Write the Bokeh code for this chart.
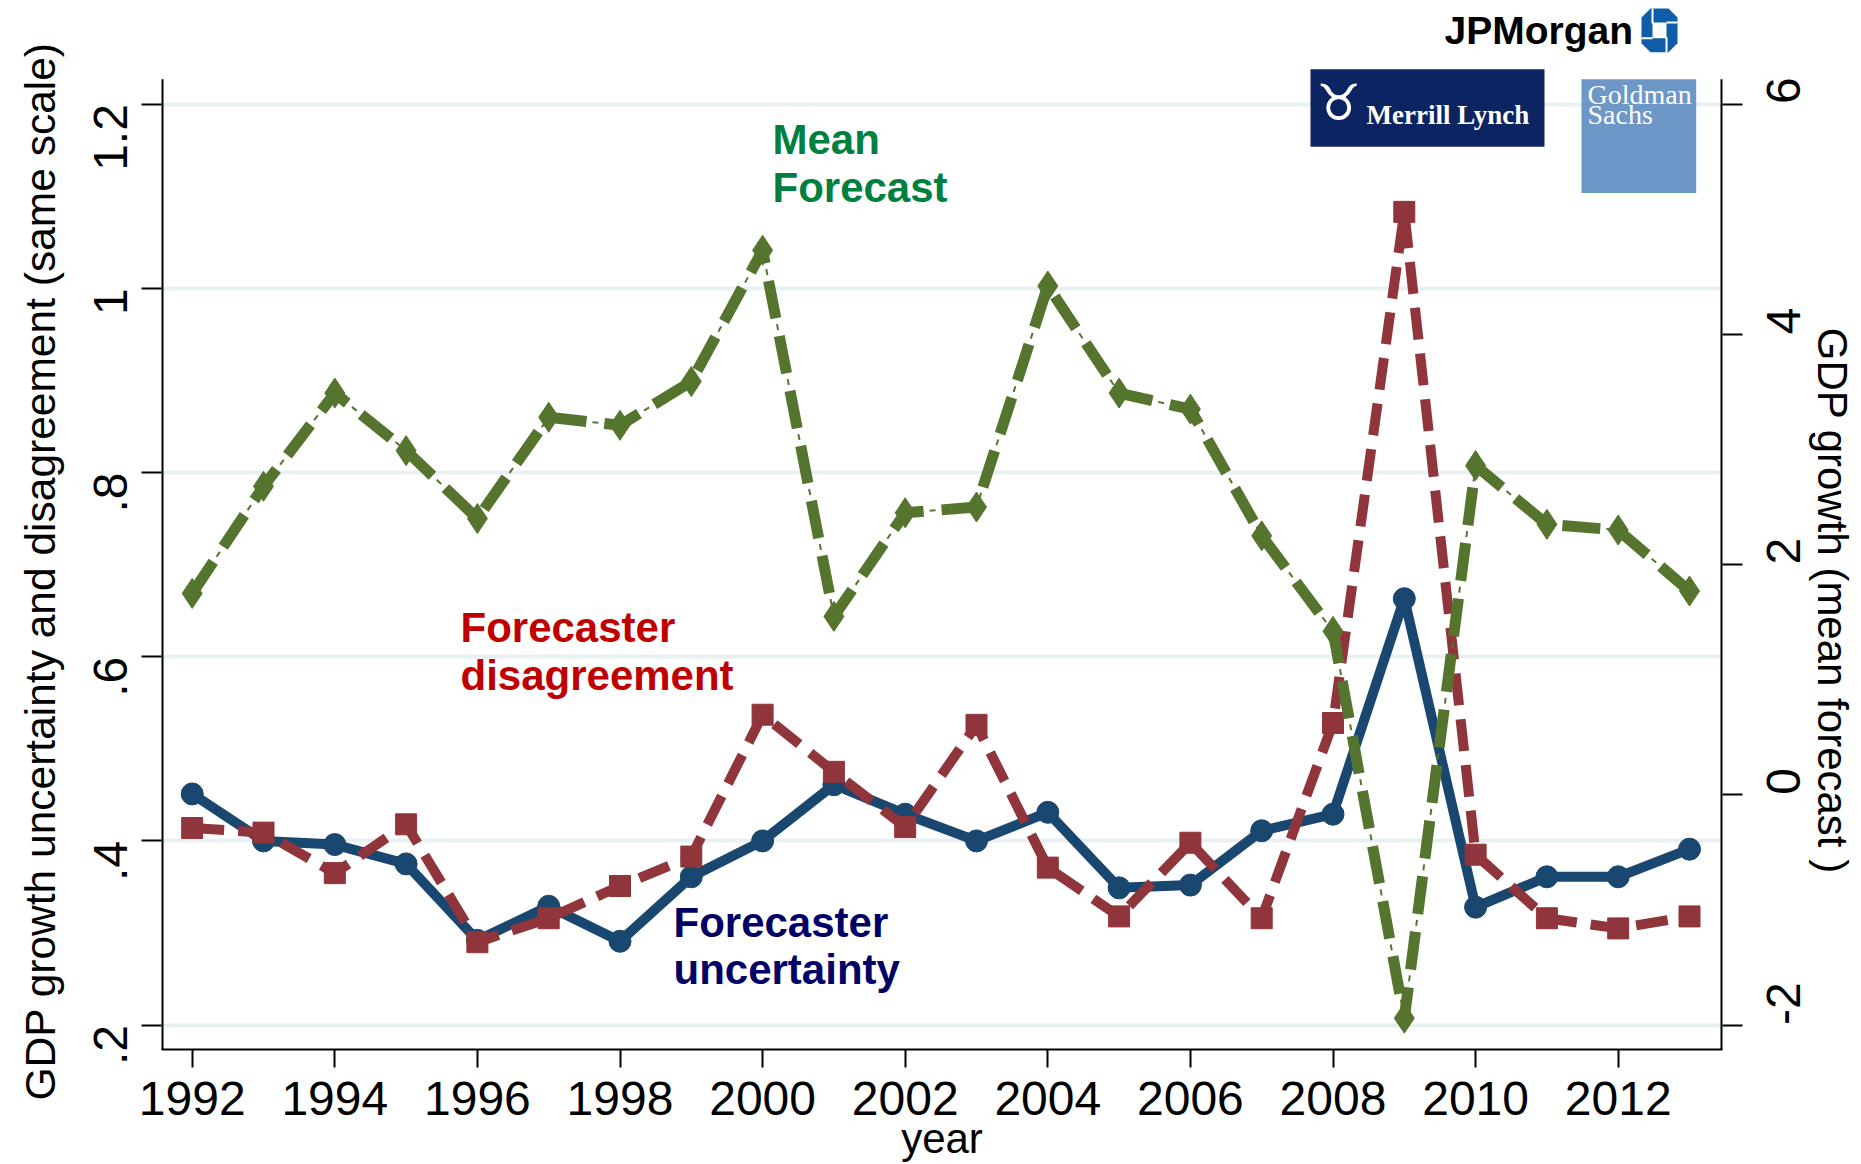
import math
from bokeh.plotting import figure
from bokeh.models import Range1d, LinearAxis, FixedTicker, Label, BoxAnnotation, PolyAnnotation, Title
from bokeh.embed import file_html
from bokeh.resources import INLINE

# ---------------- data ----------------
years = list(range(1992, 2014))
uncertainty = [0.451, 0.400, 0.396, 0.375, 0.292, 0.329, 0.291, 0.361, 0.400, 0.461, 0.429,
               0.400, 0.431, 0.349, 0.352, 0.411, 0.429, 0.663, 0.328, 0.361, 0.361, 0.391]
disagreement = [0.414, 0.409, 0.365, 0.418, 0.290, 0.316, 0.351, 0.383, 0.537, 0.475, 0.415,
                0.526, 0.371, 0.318, 0.398, 0.316, 0.528, 1.083, 0.385, 0.316, 0.305, 0.318]
mean_forecast = [1.75, 2.68, 3.49, 2.99, 2.40, 3.28, 3.21, 3.59, 4.73, 1.55, 2.45,
                 2.50, 4.42, 3.49, 3.35, 2.25, 1.42, -1.94, 2.86, 2.35, 2.30, 1.77]

x_ticks = list(range(1992, 2013, 2))
left_ticks = [0.2, 0.4, 0.6, 0.8, 1.0, 1.2]
left_tick_labels = [".2", ".4", ".6", ".8", "1", "1.2"]
right_ticks = [-2, 0, 2, 4, 6]
right_tick_labels = ["-2", "0", "2", "4", "6"]

left_title = "GDP growth uncertainty and disagreement (same scale)"
right_title = "GDP growth (mean forecast )"
x_title = "year"

# ---------------- helpers: page pixel -> data ----------------
def px_x(px):
    return 1992 + (px - 191.7) / 71.3

def px_y(py):
    return 1.2 - (py - 104.0) / 924.5

def base_y(py, size):
    # alphabetic baseline correction for Label text
    return px_y(py - (0.15 * size + 7.5))

def to_right(v):
    return 8 * v - 3.6

W, H = 1861, 1164
FRAME_L, FRAME_R, FRAME_B, AXIS_TOP = 161, 1722, 1053, 79

FONT = "Liberation Sans"
SERIF = "Liberation Serif"
NBSP = "\u00a0"

x0, x1 = px_x(FRAME_L), px_x(FRAME_R)
y0, y1 = px_y(FRAME_B), px_y(0)

p = figure(width=W, height=H,
           x_range=Range1d(x0, x1), y_range=Range1d(y0, y1),
           output_backend="svg", toolbar_location=None,
           min_border_left=FRAME_L, min_border_right=W - FRAME_R,
           min_border_top=0, min_border_bottom=H - FRAME_B)
p.extra_y_ranges = {"gdp": Range1d(to_right(y0), to_right(y1))}
p.outline_line_color = None
p.background_fill_color = "white"
p.border_fill_color = "white"

right_axis = LinearAxis(y_range_name="gdp")
p.add_layout(right_axis, "right")

for ax in [p.xaxis[0], p.yaxis[0], right_axis]:
    ax.axis_line_color = "black"
    ax.axis_line_width = 2
    ax.major_tick_line_color = "black"
    ax.major_tick_line_width = 2
    ax.major_tick_in = 0
    ax.minor_tick_in = 0
    ax.minor_tick_out = 0
    ax.major_label_text_font = FONT
    ax.major_label_text_font_size = "48px"
    ax.major_label_text_color = "black"
    ax.axis_label_text_font = FONT
    ax.axis_label_text_font_size = "42px"
    ax.axis_label_text_font_style = "normal"
    ax.axis_label_text_color = "black"

# bottom axis
p.xaxis.ticker = FixedTicker(ticks=x_ticks)
p.xaxis.major_tick_out = 18
p.xaxis.major_label_standoff = 14
p.xaxis.axis_label = x_title
p.xaxis.axis_label_standoff = -3

# left axis (line drawn separately so that it starts below the logos)
p.yaxis[0].ticker = FixedTicker(ticks=left_ticks)
p.yaxis[0].major_label_overrides = dict(zip(left_ticks, left_tick_labels))
p.yaxis[0].major_tick_out = 20
p.yaxis[0].major_label_orientation = math.pi / 2
p.yaxis[0].major_label_standoff = 31
p.yaxis[0].axis_line_color = None

# left title as a side title, started below the frame like the original
p.add_layout(Title(text=left_title, align="left", offset=-51, standoff=22,
                   vertical_align="bottom", text_font=FONT, text_font_size="42.5px",
                   text_font_style="normal", text_color="black"), "left")

right_axis.ticker = FixedTicker(ticks=right_ticks)
right_axis.major_label_overrides = dict(zip(right_ticks, right_tick_labels))
right_axis.major_tick_out = 20
right_axis.major_label_orientation = math.pi / 2
right_axis.major_label_standoff = 41
right_axis.axis_line_color = None
right_axis.axis_label = NBSP * 13 + right_title
right_axis.axis_label_standoff = -11

p.xgrid.visible = False
p.ygrid.ticker = FixedTicker(ticks=left_ticks)
p.ygrid.grid_line_color = "#e8f0f1"
p.ygrid.grid_line_width = 4

# vertical axis lines (half of the 4px stroke is clipped at the frame edge -> 2px)
p.line([x0, x0], [y0, px_y(AXIS_TOP)], line_color="black", line_width=4)
p.line([x1, x1], [y0, px_y(AXIS_TOP)], line_color="black", line_width=4)

# ---------------- series ----------------
BLUE = "#1a476f"
RED = "#90353b"
GREEN = "#55752f"

p.line(years, uncertainty, line_color=BLUE, line_width=10, line_join="round")
p.scatter(years, uncertainty, marker="circle", size=22, fill_color=BLUE, line_color=BLUE)

p.line(years, disagreement, line_color=RED, line_width=10, line_dash="32 14")
p.scatter(years, disagreement, marker="square", size=21, fill_color=RED, line_color=RED)

p.line(years, mean_forecast, y_range_name="gdp", line_color=GREEN, line_width=11,
       line_dash="38 18")
p.line(years, mean_forecast, y_range_name="gdp", line_color=GREEN, line_width=2,
       line_dash="6 50", line_dash_offset=12)
p.scatter(years, mean_forecast, y_range_name="gdp", marker="diamond", size=30,
          fill_color=GREEN, line_color=GREEN)

# ---------------- series annotations ----------------
def two_lines(x_px, base1, base2, l1, l2, color):
    for txt, b in [(l1, base1), (l2, base2)]:
        p.add_layout(Label(x=px_x(x_px), y=base_y(b, 42), text=txt, text_align="left",
                           text_baseline="alphabetic", text_font=FONT, text_font_size="42px",
                           text_font_style="bold", text_color=color))

two_lines(772, 153.3, 201.7, "Mean", "Forecast", "#00803f")
two_lines(460, 643.3, 691.7, "Forecaster", "disagreement", "#c00000")
two_lines(673, 939.3, 986.7, "Forecaster", "uncertainty", "#000066")

# ---------------- bank logos ----------------
p.add_layout(Label(x=px_x(1444), y=base_y(43.3, 39), text="JPMorgan", text_align="left",
                   text_baseline="alphabetic", text_font=FONT, text_font_size="39px",
                   text_font_style="bold", text_color="black"))
cx, cy, hw, hh, c = 1659, 30, 18, 22, 9
oct_px = [(cx - hw + c, cy - hh), (cx + hw - c, cy - hh), (cx + hw, cy - hh + c), (cx + hw, cy + hh - c),
          (cx + hw - c, cy + hh), (cx - hw + c, cy + hh), (cx - hw, cy + hh - c), (cx - hw, cy - hh + c)]
p.add_layout(PolyAnnotation(xs=[px_x(a) for a, b in oct_px], ys=[px_y(b) for a, b in oct_px],
                            fill_color="#0f5ca8", fill_alpha=1, line_color=None))
sq = 7
p.add_layout(BoxAnnotation(left=px_x(cx - sq), right=px_x(cx + sq), top=px_y(cy - sq - 1),
                           bottom=px_y(cy + sq + 1), fill_color="white", fill_alpha=1, line_color=None))
for a, b, a2, b2 in [(cx - sq - 1, cy - hh, cx - sq + 1, cy - sq),
                     (cx + sq, cy - sq - 2, cx + hw, cy - sq),
                     (cx + sq - 1, cy + sq, cx + sq + 1, cy + hh),
                     (cx - hw, cy + sq, cx - sq, cy + sq + 2)]:
    p.add_layout(BoxAnnotation(left=px_x(a), right=px_x(a2), top=px_y(b), bottom=px_y(b2),
                               fill_color="white", fill_alpha=1, line_color=None))

p.add_layout(BoxAnnotation(left=px_x(1310), right=px_x(1544), top=px_y(69), bottom=px_y(146.7),
                           fill_color="#0c2461", fill_alpha=1, line_color=None))
p.add_layout(Label(x=px_x(1316), y=base_y(118, 50), text="\u2649", text_align="left",
                   text_baseline="alphabetic", text_font="DejaVu Sans", text_font_size="50px",
                   text_color="white"))
p.add_layout(Label(x=px_x(1366), y=base_y(126, 27), text="Merrill Lynch", text_align="left",
                   text_baseline="alphabetic", text_font=SERIF, text_font_size="27px",
                   text_font_style="bold", text_color="white"))

p.add_layout(BoxAnnotation(left=px_x(1581), right=px_x(1695.7), top=px_y(79), bottom=px_y(193.3),
                           fill_color="#6c97c7", fill_alpha=1, line_color=None))
for txt, b in [("Goldman", 106), ("Sachs", 126.5)]:
    p.add_layout(Label(x=px_x(1587), y=base_y(b, 28), text=txt, text_align="left",
                       text_baseline="alphabetic", text_font=SERIF, text_font_size="28px",
                       text_color="white"))

open("out.html", "w").write(file_html(p, INLINE))
